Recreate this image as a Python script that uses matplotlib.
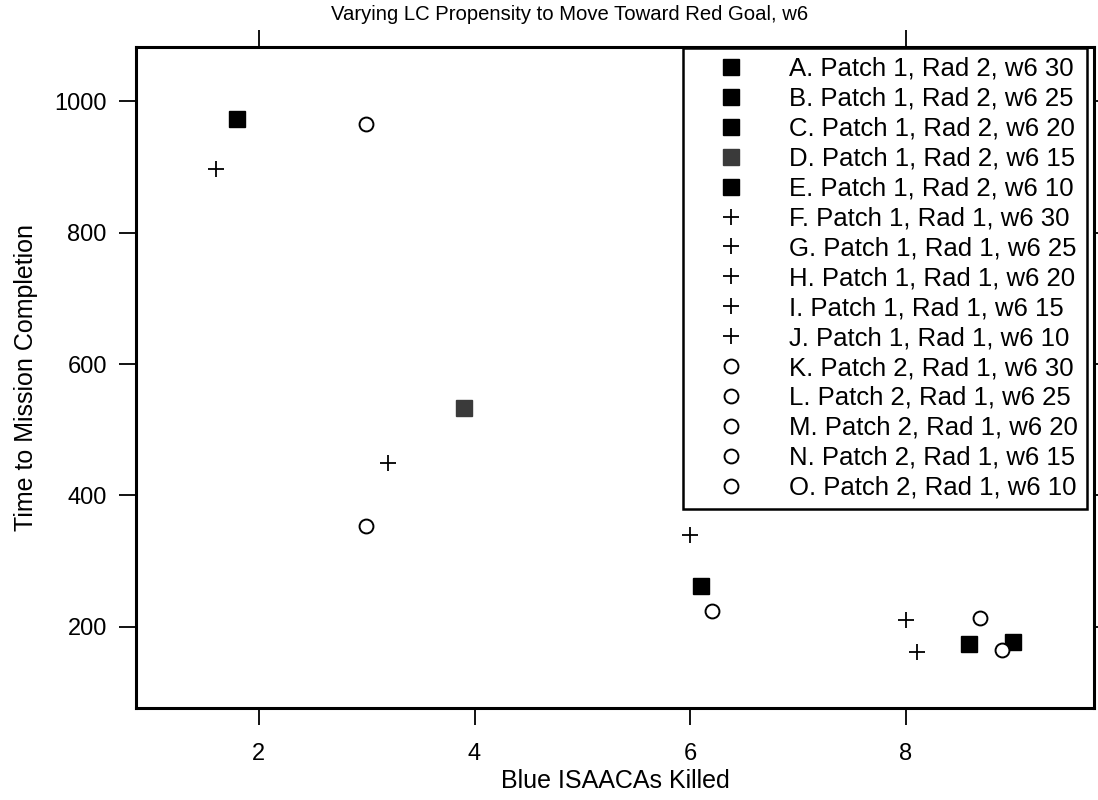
import matplotlib.pyplot as plt

plt.rcParams['font.family'] = ['Liberation Sans', 'DejaVu Sans']

# one point per run, A-O
labels = ["A. Patch 1, Rad 2, w6 30", "B. Patch 1, Rad 2, w6 25",
          "C. Patch 1, Rad 2, w6 20", "D. Patch 1, Rad 2, w6 15",
          "E. Patch 1, Rad 2, w6 10", "F. Patch 1, Rad 1, w6 30",
          "G. Patch 1, Rad 1, w6 25", "H. Patch 1, Rad 1, w6 20",
          "I. Patch 1, Rad 1, w6 15", "J. Patch 1, Rad 1, w6 10",
          "K. Patch 2, Rad 1, w6 30", "L. Patch 2, Rad 1, w6 25",
          "M. Patch 2, Rad 1, w6 20", "N. Patch 2, Rad 1, w6 15",
          "O. Patch 2, Rad 1, w6 10"]
kills = [8.99, 8.59, 6.10, 3.90, 1.80,
         8.10, 8.00, 6.00, 3.20, 1.60,
         8.89, 8.69, 6.20, 2.99, 2.99]
times = [177, 173, 262, 533, 973,
         162, 210, 339, 449, 897,
         164, 213, 224, 353, 966]

xticks = [2, 4, 6, 8]
yticks = [200, 400, 600, 800, 1000]

fig = plt.figure(figsize=(10.98, 8.0), dpi=100)
ax = fig.add_axes([136/1098, 1 - 708/800, (1094-136)/1098, (708-47)/800])

for i in range(len(labels)):
    if i < 5:
        col = '#3a3a3a' if i == 3 else 'black'
        ax.plot([kills[i]], [times[i]], 's', ms=11, color=col, mec=col,
                label=labels[i], linestyle='none')
    elif i < 10:
        ax.plot([kills[i]], [times[i]], '+', ms=12, mew=1.3, color='black',
                label=labels[i], linestyle='none')
    else:
        ax.plot([kills[i]], [times[i]], 'o', ms=10, mew=1.4, mfc='white',
                mec='black', label=labels[i], linestyle='none')

ax.set_xlim(0.86, 9.745)
ax.set_ylim(76, 1083)
ax.set_xticks(xticks)
ax.set_yticks(yticks)
ax.tick_params(direction='out', length=12, width=1.3, labelsize=17, pad=9)
ax.tick_params(axis='x', pad=13)
for s in ax.spines.values():
    s.set_linewidth(2.2)

top = ax.secondary_xaxis('top')
top.set_xticks([2, 8])
top.set_xticklabels([])
top.tick_params(direction='out', length=12, width=1.3)
top.spines['top'].set_visible(False)
right = ax.secondary_yaxis('right')
right.set_yticks(yticks)
right.set_yticklabels([])
right.tick_params(direction='out', length=12, width=1.3)
right.spines['right'].set_visible(False)

ax.set_xlabel('Blue ISAACAs Killed', fontsize=18, labelpad=3)
ax.set_ylabel('Time to Mission Completion', fontsize=18, labelpad=12)
fig.text(570/1098, 1 - 14/800, 'Varying LC Propensity to Move Toward Red Goal, w6',
         ha='center', va='center', fontsize=14.6)

leg = ax.legend(loc='upper right', bbox_to_anchor=(1087/1098, 1 - 48/800),
                bbox_transform=fig.transFigure, borderaxespad=0, fontsize=18.5,
                numpoints=1, handlelength=3.04, handletextpad=0.73,
                labelspacing=0.23, borderpad=0.35, fancybox=False, framealpha=1)
leg.get_frame().set_edgecolor('black')
leg.get_frame().set_linewidth(1.8)

fig.savefig('out.png', dpi=100)
